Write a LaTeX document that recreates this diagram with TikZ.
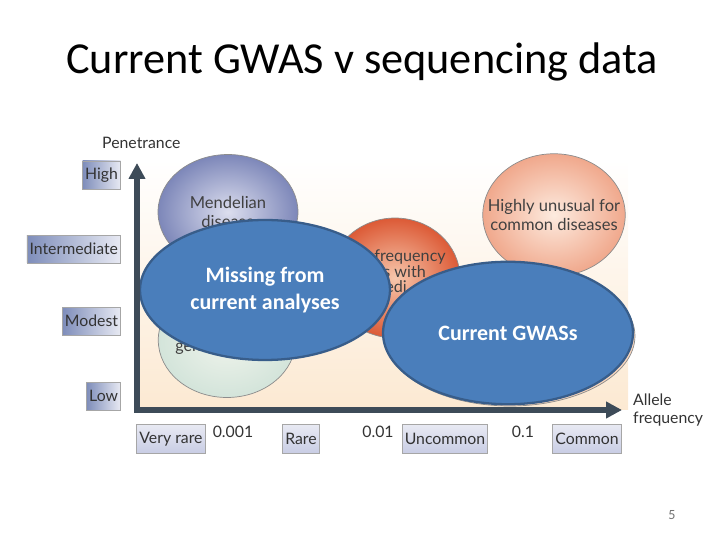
\documentclass[tikz,border=0pt]{standalone}
\usepackage{fontspec}
\setmainfont{Carlito}
\newfontfamily\figfont{Lato}
\usetikzlibrary{shapes.geometric, arrows.meta, positioning}

\definecolor{AxisSlate}{HTML}{3D4B58}
\definecolor{HoleFill}{HTML}{4A7EBB}
\definecolor{HoleEdge}{HTML}{385D8A}
\definecolor{PeachBg}{HTML}{FCE9D2}
\definecolor{BoxDark}{HTML}{7E8DBA}
\definecolor{BoxLight}{HTML}{E8EAF3}
\definecolor{TickBox}{HTML}{C8CCE4}
\definecolor{MendelEdge}{HTML}{7D87B9}
\definecolor{MendelCore}{HTML}{DCDEEE}
\definecolor{MintEdge}{HTML}{D3E4DA}
\definecolor{MintCore}{HTML}{F0F4EC}
\definecolor{RustEdge}{HTML}{DC5A36}
\definecolor{RustCore}{HTML}{F7C7AC}
\definecolor{SalmonEdge}{HTML}{F0A88C}
\definecolor{SalmonCore}{HTML}{FDEBDF}

\begin{document}
\begin{tikzpicture}[x=0.02cm, y=-0.02cm,
  blob/.style={ellipse, draw=black!45, thin, inner sep=0pt, align=center, text=black!75,
    font=\figfont\fontsize{9.4}{10.8}\selectfont},
  blobtext/.style={text=black!75, inner sep=0pt, anchor=west, font=\figfont\fontsize{9.2}{10.5}\selectfont},
  hole/.style={ellipse, draw=HoleEdge, line width=1.3pt, fill=HoleFill, text=white, inner sep=0pt,
    align=center, font=\bfseries\fontsize{12.5}{15}\selectfont, minimum width=5cm, minimum height=2.8cm},
  ylab/.style={draw=black!35, left color=BoxDark, right color=BoxLight, inner xsep=1.5pt,
    minimum height=0.56cm, text=black!80, font=\figfont\fontsize{9}{10}\selectfont, anchor=east},
  xlab/.style={draw=black!35, top color=BoxLight, bottom color=TickBox, inner xsep=1.5pt,
    minimum height=0.58cm, text=black!80, font=\figfont\fontsize{9}{10}\selectfont},
  tick/.style={text=black!80, font=\figfont\fontsize{9}{10}\selectfont},
  axis/.style={draw=AxisSlate, line width=3pt, -{Triangle[length=9pt, width=9pt]}},
]
\useasboundingbox (0,0) rectangle (720,540);

\node[font=\fontsize{25.2}{30}\selectfont] (title) at (362,62) {Current GWAS v sequencing data};

% chart background
\shade[top color=white, bottom color=PeachBg] (138,160) rectangle (628,410);

% the published circles
\node[blob, minimum width=2.8cm, minimum height=2.3cm, inner color=MendelCore, outer color=MendelEdge] (mendel) at (228,212) {Mendelian\\disease};
\node[blob, minimum width=2.75cm, minimum height=2.3cm, inner color=MintCore, outer color=MintEdge] (small) at (227,340) {};
\node[blobtext] (smalltxt) at (175,349) {gen};
\node[blob, minimum width=2.6cm, minimum height=2.4cm, inner color=RustCore, outer color=RustEdge] (lowfreq) at (395,278) {};
\node[blobtext] (lf1) at (374,257) {frequency};
\node[blobtext] (lf2) at (383,272) {s with};
\node[blobtext] (lf3) at (385,287) {edi};
\node[blob, minimum width=2.85cm, minimum height=2.45cm, inner color=SalmonCore, outer color=SalmonEdge] (unusual) at (554,215) {};
\node[blobtext, anchor=center, align=center, font=\figfont\fontsize{9.4}{10.8}\selectfont] (unusualtxt) at (unusual) {Highly unusual for\\common diseases};
\node[blob, minimum width=5cm, minimum height=2.8cm, fill=PeachBg!70!SalmonEdge] (common) at (510,336) {};

% overlays
\node[hole] (missing) at (265,290) {Missing from\\current analyses};
\node[hole, minimum height=2.85cm] (gwas) at (508,333) {Current GWASs};

% axes
\coordinate (origin) at (137,410);
\coordinate (ytop) at (137,163);
\coordinate (xend) at (622,410);
\draw[axis] ([yshift=-1.5pt]origin) -- (ytop);
\draw[axis] ([xshift=-1.5pt]origin) -- (xend);

\node[tick, anchor=south west] (pen) at (96,155) {Penetrance};
\node[tick, anchor=north west, align=left] (allele) at (627,388) {Allele\\frequency};

% penetrance levels
\node[ylab] (high) at (121,175) {High};
\node[ylab] (inter) at (121,249) {Intermediate};
\node[ylab] (modest) at (121,321) {Modest};
\node[ylab] (low) at (121,396) {Low};

% frequency classes
\node[xlab] (vrare) at (171,439) {Very rare};
\node[tick] (t1) at (233,432) {0.001};
\node[xlab] (rare) at (301,439) {Rare};
\node[tick] (t2) at (378,432) {0.01};
\node[xlab] (uncommon) at (445,439) {Uncommon};
\node[tick] (t3) at (523,432) {0.1};
\node[xlab] (commonlab) at (587,439) {Common};

\node[text=black!55, font=\fontsize{8}{9}\selectfont] (page) at (672,515) {5};
\end{tikzpicture}
\end{document}
